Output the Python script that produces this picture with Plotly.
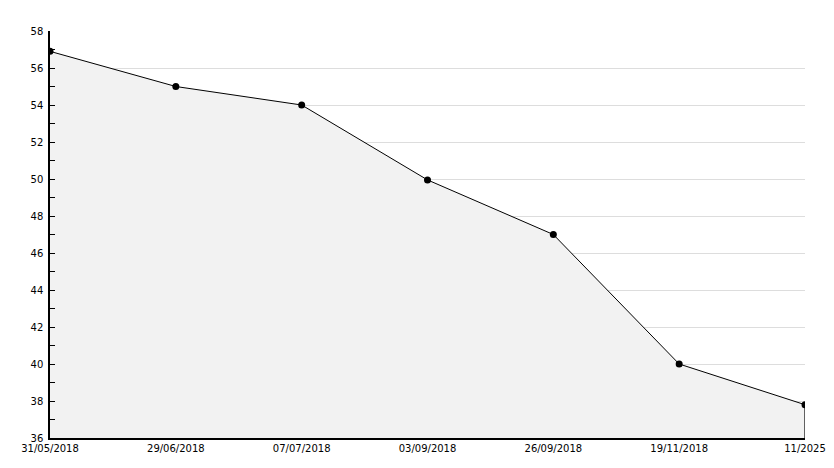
import plotly.graph_objects as go

# data
dates = ["31/05/2018", "29/06/2018", "07/07/2018", "03/09/2018",
         "26/09/2018", "19/11/2018", "11/2025"]
values = [56.9, 55.0, 54.0, 49.95, 47.0, 40.0, 37.8]
y_ticks = [36, 38, 40, 42, 44, 46, 48, 50, 52, 54, 56, 58]

x_pos = list(range(len(dates)))

fig = go.Figure()

# filled area under the line
fig.add_trace(go.Scatter(
    x=x_pos, y=values,
    mode="lines+markers",
    line=dict(color="black", width=1),
    marker=dict(color="black", size=7, symbol="circle"),
    fill="tozeroy", fillcolor="#f2f2f2",
    hoverinfo="x+y", showlegend=False,
))

# closing edge on the right of the filled area
fig.add_trace(go.Scatter(
    x=[x_pos[-1], x_pos[-1]], y=[values[-1], y_ticks[0]],
    mode="lines", line=dict(color="black", width=1.2),
    hoverinfo="skip", showlegend=False,
))

font = dict(family="DejaVu Sans", size=10, color="black")

fig.update_layout(
    width=834, height=468,
    margin=dict(l=50, r=29, t=31, b=30),
    paper_bgcolor="white", plot_bgcolor="white",
    font=font,
    xaxis=dict(
        range=[0, len(dates) - 1],
        tickvals=x_pos, ticktext=dates,
        showgrid=False, zeroline=False,
        showline=True, linecolor="black", linewidth=1.5,
        ticks="", tickfont=font, automargin=False,
    ),
    yaxis=dict(
        range=[36, 58],
        tickvals=y_ticks,
        showgrid=True, gridcolor="#dddddd", gridwidth=1,
        zeroline=False,
        showline=True, linecolor="black", linewidth=1.5,
        ticks="inside", ticklen=5, tickcolor="black",
        minor=dict(dtick=1, ticks="inside", ticklen=5,
                   tickcolor="black", showgrid=False),
        ticklabelstandoff=3, automargin=False,
        tickfont=font,
    ),
)

# drop the default page margin so the figure sits at the window's corner
fig.write_html("out.html", config={"displayModeBar": False},
               post_script="document.body.style.margin='0';")
